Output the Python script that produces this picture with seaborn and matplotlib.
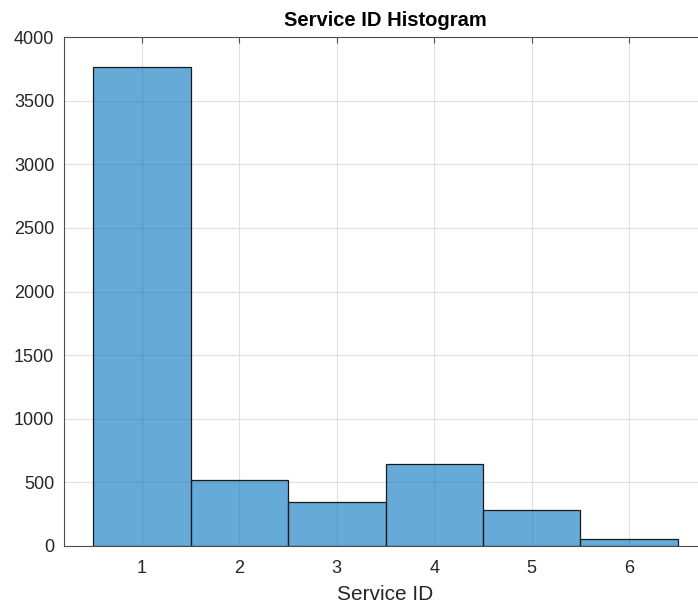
import matplotlib
matplotlib.use("Agg")
import matplotlib.pyplot as plt
import seaborn as sns
import pandas as pd

# Service ID counts
service_ids = [1, 2, 3, 4, 5, 6]
counts = [3765, 519, 343, 643, 284, 53]
y_ticks = [0, 500, 1000, 1500, 2000, 2500, 3000, 3500, 4000]

df = pd.DataFrame({"service_id": service_ids, "count": counts})

sns.set_style("white")
plt.rcParams["font.family"] = ["Liberation Sans", "DejaVu Sans"]

fig = plt.figure(figsize=(6.98, 6.05), dpi=100)
# axes box: left 64px, right ~707px, top 37px, bottom 546px
W, H = 698, 605
ax = fig.add_axes([64 / W, (H - 546) / H, (707 - 64) / W, (546 - 37) / H])

sns.histplot(data=df, x="service_id", weights="count", discrete=True,
             color="#0072BD", alpha=0.6, edgecolor="#1a1a1a", linewidth=0.9,
             ax=ax)

ax.set_xlim(0.2, 6.8)
ax.set_ylim(0, 4000)
ax.set_xticks(service_ids)
ax.set_yticks(y_ticks)
ax.set_axisbelow(True)
ax.grid(True, color="#e0e0e0", linewidth=0.8)

for s in ax.spines.values():
    s.set_color("#4d4d4d")
    s.set_linewidth(0.8)

ax.tick_params(axis="both", direction="in", length=4, width=0.8,
               color="#4d4d4d", labelcolor="#262626", labelsize=13,
               top=True, right=True)
ax.tick_params(axis="x", pad=10)
ax.tick_params(axis="y", pad=7)

ax.set_xlabel("Service ID", fontsize=15, color="#262626", labelpad=6)
ax.set_ylabel("")
ax.set_title("Service ID Histogram", fontsize=14.5, fontweight="bold",
             color="black", pad=8)

fig.savefig("out.png", dpi=100)
